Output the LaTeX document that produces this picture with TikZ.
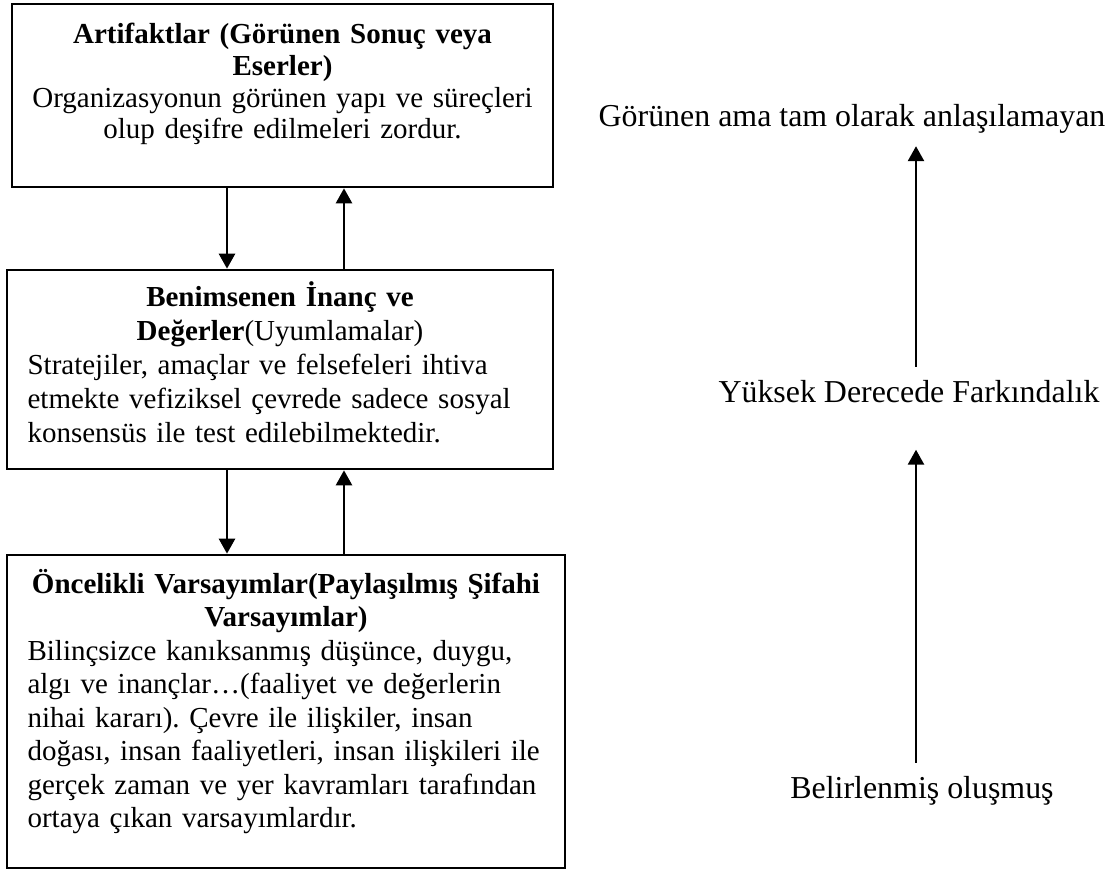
\documentclass[tikz,border=0pt]{standalone}
\usepackage{fontspec}
\setmainfont{Liberation Serif}
\usetikzlibrary{arrows.meta,fit}
\frenchspacing

\begin{document}
\begin{tikzpicture}[x=0.4138pt,y=-0.4138pt,
  box/.style={draw, line width=1.1pt, inner sep=0pt},
  arr/.style={line width=1.1pt, -{Triangle[length=6.2pt,width=6.6pt]}},
  boxtext/.style={anchor=base, inner sep=0pt, font=\fontsize{12pt}{#1}\selectfont},
  side/.style={anchor=base, inner sep=5.3pt, font=\fontsize{13.2pt}{15pt}\selectfont}]

\useasboundingbox (0,0) rectangle (1119,871);

% the three layers
\node[box, fit={(12,4) (553,187)}] (art) {};
\node[box, fit={(7,270) (553,469)}] (ben) {};
\node[box, fit={(7,555) (565,868)}] (onc) {};

\node[boxtext=13.24pt, text width=210.9pt] (artT) at (282.5,43)
  {\centering
   \mbox{\textbf{Artifaktlar (Görünen Sonuç veya}}\\
   \mbox{\textbf{Eserler)}}\\
   \mbox{Organizasyonun görünen yapı ve süreçleri}\\
   \mbox{olup deşifre edilmeleri zordur.}\par};

\node[boxtext=14.07pt, text width=208.9pt] (benT) at (280,306)
  {\centering
   \mbox{\textbf{Benimsenen İnanç ve}}\\
   \mbox{\textbf{Değerler}(Uyumlamalar)}\par
   \raggedright
   \mbox{Stratejiler, amaçlar ve felsefeleri ihtiva}\\
   \mbox{etmekte vefiziksel çevrede sadece sosyal}\\
   \mbox{konsensüs ile test edilebilmektedir.}\par};

\node[boxtext=13.89pt, text width=213.9pt] (oncT) at (286,593)
  {\centering
   \mbox{\textbf{Öncelikli Varsayımlar(Paylaşılmış Şifahi}}\\
   \mbox{\textbf{Varsayımlar)}}\par
   \raggedright
   \mbox{Bilinçsizce kanıksanmış düşünce, duygu,}\\
   \mbox{algı ve inançlar…(faaliyet ve değerlerin}\\
   \mbox{nihai kararı). Çevre ile ilişkiler, insan}\\
   \mbox{doğası, insan faaliyetleri, insan ilişkileri ile}\\
   \mbox{gerçek zaman ve yer kavramları tarafından}\\
   \mbox{ortaya çıkan varsayımlardır.}\par};

% arrows between the layers
\coordinate (xd) at (227,0);
\coordinate (xu) at (344,0);
\draw[arr] (art.south -| xd) -- (ben.north -| xd);
\draw[arr] (ben.north -| xu) -- (art.south -| xu);
\draw[arr] (ben.south -| xd) -- (onc.north -| xd);
\draw[arr] (onc.north -| xu) -- (ben.south -| xu);

% awareness scale
\node[side] (top) at (852,126) {Görünen ama tam olarak anlaşılamayan};
\node[side] (mid) at (909,402) {Yüksek Derecede Farkındalık};
\node[side] (bot) at (922,798) {Belirlenmiş oluşmuş};
\coordinate (rx) at (916,0);
\draw[arr] (mid.north -| rx) -- (top.south -| rx);
\draw[arr, shorten >=14.1pt] (bot.north -| rx) -- (mid.south -| rx);

\end{tikzpicture}
\end{document}
